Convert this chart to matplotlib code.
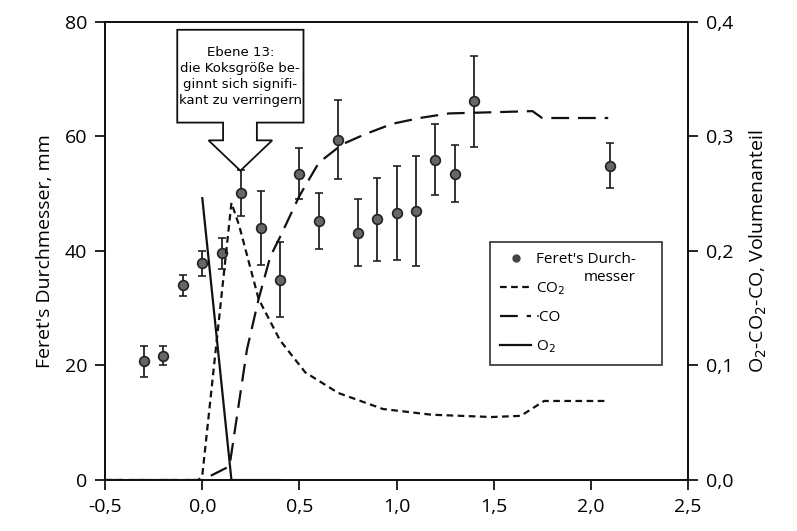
import numpy as np
import matplotlib
matplotlib.use("Agg")
import matplotlib.pyplot as plt
from matplotlib.patches import Polygon

plt.rcParams['font.family'] = ['Open Sans', 'DejaVu Sans']

# Feret's Durchmesser (mm) mit Fehlerbalken
feret_x = [-0.3, -0.2, -0.1, 0.0, 0.1, 0.2, 0.3, 0.4, 0.5, 0.6, 0.7, 0.8, 0.9, 1.0, 1.1, 1.2, 1.3, 1.4, 2.1]
feret_y = [20.7, 21.7, 34.0, 37.8, 39.6, 50.1, 44.0, 35.0, 53.5, 45.2, 59.4, 43.2, 45.5, 46.6, 47.0, 55.9, 53.5, 66.1, 54.9]
feret_err = [2.7, 1.7, 1.8, 2.2, 2.7, 4.0, 6.5, 6.6, 4.4, 4.9, 6.9, 5.9, 7.3, 8.2, 9.6, 6.2, 5.0, 7.9, 3.9]

# Gasanteile (Volumenanteil)
co2_x = [-0.5, -0.02, 0.0, 0.15, 0.19, 0.29, 0.40, 0.53, 0.70, 0.93, 1.18, 1.49, 1.64, 1.76, 2.09]
co2_y = [0.0, 0.0, 0.004, 0.242, 0.222, 0.158, 0.122, 0.094, 0.076, 0.062, 0.057, 0.055, 0.056, 0.069, 0.069]

co_x = [-0.5, 0.0, 0.14, 0.23, 0.29, 0.35, 0.40, 0.50, 0.60, 0.72, 0.84, 0.98, 1.12, 1.27, 1.49, 1.70, 1.75, 2.09]
co_y = [0.0, 0.0, 0.012, 0.114, 0.158, 0.195, 0.212, 0.248, 0.277, 0.293, 0.302, 0.311, 0.316, 0.320, 0.321, 0.322, 0.316, 0.316]

o2_x = [0.0, 0.15, 0.40]
o2_y = [0.246, 0.0, 0.0]

xticks = [-0.5, 0.0, 0.5, 1.0, 1.5, 2.0, 2.5]
yticks_l = [0, 20, 40, 60, 80]
yticks_r = [0.0, 0.1, 0.2, 0.3, 0.4]

def komma(v, nd):
    return f"{v:.{nd}f}".replace(".", ",")

fig = plt.figure(figsize=(7.97, 5.31), dpi=100)
fig.patch.set_facecolor('white')
ax = fig.add_axes([0.132, 0.096, 0.731, 0.863])
ax2 = ax.twinx()

ax.errorbar(feret_x, feret_y, yerr=feret_err, fmt='o', color='#222222', mfc='#666666',
            mec='#222222', ms=7, mew=1.2, ecolor='#222222', elinewidth=1.3, capsize=3,
            capthick=1.3, zorder=5)

ax2.plot(co2_x, co2_y, color='#111111', lw=1.6, dashes=(3, 2))
ax2.plot(co_x, co_y, color='#111111', lw=1.6, dashes=(8, 4))
ax2.plot(o2_x, o2_y, color='#111111', lw=1.6)

ax.set_xlim(-0.5, 2.5)
ax.set_ylim(0, 80)
ax2.set_ylim(0, 0.4)
ax.set_xticks(xticks)
ax.set_xticklabels([komma(v, 1) for v in xticks])
ax.set_yticks(yticks_l)
ax2.set_yticks(yticks_r)
ax2.set_yticklabels([komma(v, 1) for v in yticks_r])

for a in (ax, ax2):
    a.tick_params(labelsize=14, direction='out', length=7, width=1.2, pad=6)
    for s in a.spines.values():
        s.set_linewidth(1.3)
        s.set_color('#111111')

ax.set_ylabel("Feret's Durchmesser, mm", fontsize=14, labelpad=8)
ax2.set_ylabel("O$_2$-CO$_2$-CO, Volumenanteil", fontsize=14, labelpad=10)

# Legende
h_p = ax.errorbar([], [], fmt='o', color='#444444', ms=5)
h_co2, = ax.plot([], [], color='#111111', lw=1.6, dashes=(3, 2))
h_co, = ax.plot([], [], color='#111111', lw=1.6, dashes=(8, 4))
h_o2, = ax.plot([], [], color='#111111', lw=1.6)
leg = ax2.legend([h_p[0], h_co2, h_co, h_o2], ["Feret's Durch-", "CO$_2$", "·CO", "O$_2$"],
                 loc='upper left', bbox_to_anchor=(0.66, 0.251, 0.295, 0.269), mode='expand',
                 fontsize=11, frameon=True, fancybox=False, edgecolor='#111111',
                 handlelength=2.0, handletextpad=0.3, labelspacing=0.85, borderpad=0.7,
                 borderaxespad=0)
leg.get_frame().set_linewidth(1.3)

# zweite Zeile "messer" rechtsbuendig unter "Durch-"
fig.canvas.draw()
bb = leg.get_texts()[0].get_window_extent().transformed(ax2.transAxes.inverted())
ax2.text(bb.x1, bb.y0 - 0.005, "messer", transform=ax2.transAxes, fontsize=11,
         ha='right', va='top', zorder=10)

# Hinweis-Kasten mit Pfeil
box = [(-0.129, 78.6), (0.521, 78.6), (0.521, 62.4), (0.281, 62.4), (0.281, 59.3),
       (0.360, 59.3), (0.196, 54.0), (0.032, 59.3), (0.107, 59.3), (0.107, 62.4),
       (-0.129, 62.4)]
ax.add_patch(Polygon(box, closed=True, facecolor='white', edgecolor='#111111', lw=1.3, zorder=6))
ax.text(0.196, 70.5, "Ebene 13:\ndie Koksgröße be-\nginnt sich signifi-\nkant zu verringern",
        ha='center', va='center', fontsize=9.5, linespacing=1.3, zorder=7,
        family=['DejaVu Sans Condensed', 'Liberation Sans Narrow', 'DejaVu Sans'])

fig.savefig("out.png", dpi=100)
